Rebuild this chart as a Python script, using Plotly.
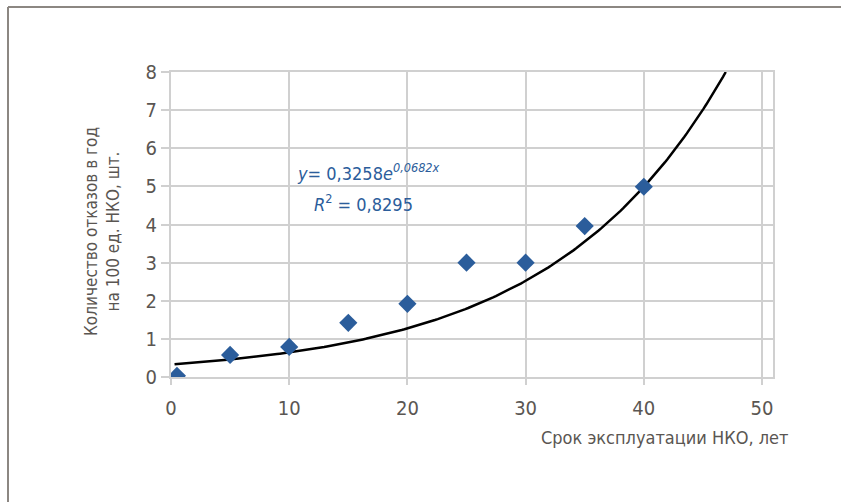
import numpy as np
import plotly.graph_objects as go

# Service life of tubing (years) and failures per 100 units per year
years = [0.5, 5, 10, 15, 20, 25, 30, 35, 40]
failures = [0.03, 0.58, 0.79, 1.42, 1.92, 3.0, 3.0, 3.96, 4.99]

# Exponential trendline y = a * exp(b * x)
trend_a = 0.3258
trend_b = 0.0682
r_squared = 0.8295

x_ticks = [0, 10, 20, 30, 40, 50]
y_ticks = [0, 1, 2, 3, 4, 5, 6, 7, 8]

x_title = "Срок эксплуатации НКО, лет"
y_title = "Количество отказов в год<br>на 100 ед. НКО, шт."

FONT = "Liberation Sans Narrow, DejaVu Sans Condensed, Roboto, sans-serif"
GRID = "#d0d0d0"
TEXT = "#5a5652"
BLUE = "#2b5d9b"

x_end = np.log(8 / trend_a) / trend_b
trend_x = np.linspace(0.3, x_end, 200)
trend_y = trend_a * np.exp(trend_b * trend_x)

fig = go.Figure()
fig.add_trace(go.Scatter(
    x=trend_x, y=trend_y, mode="lines",
    line=dict(color="black", width=2.5), hoverinfo="skip",
))
fig.add_trace(go.Scatter(
    x=years, y=failures, mode="markers",
    marker=dict(symbol="diamond", size=14, color=BLUE),
))

W, H = 841, 502
L, R, T, B = 171, 68, 72, 125
pw, ph = W - L - R, H - T - B


def px(x):
    return (x - L) / pw


def py(y):
    return (H - B - y) / ph


frame = dict(color="#8c8782", width=2)
shapes = [
    dict(type="line", xref="paper", yref="paper", x0=px(8), x1=px(8),
         y0=py(7), y1=py(H + 2), line=frame),
    dict(type="line", xref="paper", yref="paper", x0=px(8), x1=px(W + 2),
         y0=py(7), y1=py(7), line=frame),
]

eq_text = (f"<i>y</i>= {str(trend_a).replace('.', ',')}<i>e</i>"
           f"<sup><i>{str(trend_b).replace('.', ',')}x</i></sup>")
r2_text = f"<i>R</i><sup>2</sup> = {str(r_squared).replace('.', ',')}"

axis_common = dict(
    showgrid=True, gridcolor=GRID, gridwidth=2, zeroline=False,
    showline=True, linecolor=GRID, linewidth=2, mirror=True,
    ticks="outside", tickcolor=GRID, tickwidth=2,
    tickfont=dict(size=20, color=TEXT),
)

fig.update_layout(
    width=W, height=H,
    margin=dict(l=L, r=R, t=T, b=B, pad=0),
    paper_bgcolor="white", plot_bgcolor="white",
    showlegend=False,
    font=dict(family=FONT, color=TEXT, size=20),
    shapes=shapes,
    xaxis=dict(range=[0, 50.93], tickvals=x_ticks, ticklen=6,
               ticklabelstandoff=6, **axis_common),
    yaxis=dict(range=[0, 8], tickvals=y_ticks, ticklen=8, **axis_common),
    annotations=[
        dict(text=x_title, xref="paper", yref="paper", x=px(790), y=py(437),
             xanchor="right", yanchor="middle", showarrow=False,
             font=dict(size=18, color=TEXT)),
        dict(text=y_title, xref="paper", yref="paper", x=px(102), y=py(232),
             xanchor="center", yanchor="middle", showarrow=False,
             textangle=-90, font=dict(size=17, color=TEXT)),
        dict(text=eq_text, xref="paper", yref="paper", x=px(295), y=py(172),
             xanchor="left", yanchor="middle", showarrow=False,
             font=dict(size=18, color=BLUE)),
        dict(text=r2_text, xref="paper", yref="paper", x=px(312), y=py(203),
             xanchor="left", yanchor="middle", showarrow=False,
             font=dict(size=18, color=BLUE)),
    ],
)

fig.write_html("out.html")
